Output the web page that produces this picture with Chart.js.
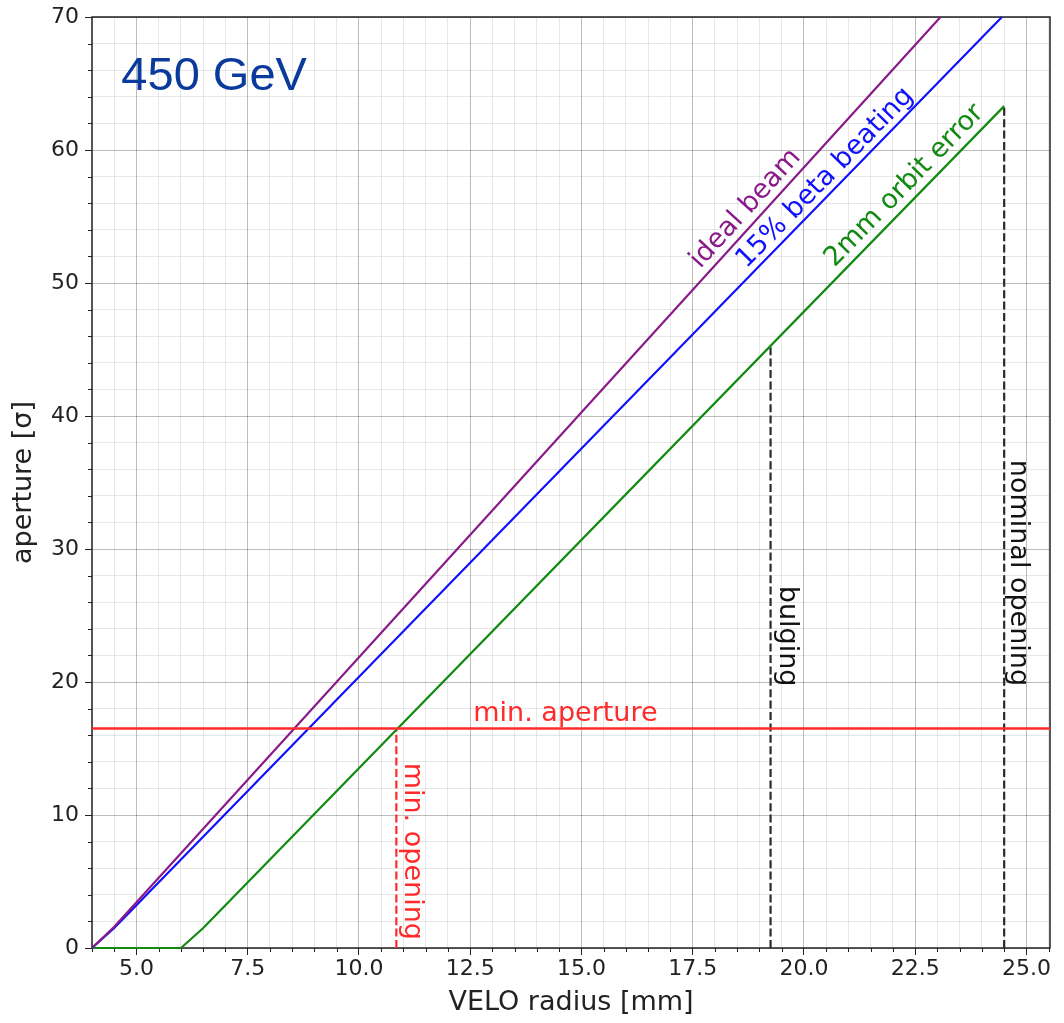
<!DOCTYPE html>
<html>
<head>
<meta charset="utf-8">
<title>VELO aperture at 450 GeV</title>
<script src="https://cdn.jsdelivr.net/npm/chart.js@4.4.1/dist/chart.umd.min.js"></script>
<style>
  html, body { margin: 0; padding: 0; background: #fff; }
  #wrap { width: 1064px; height: 1023px; }
</style>
</head>
<body>
<div id="wrap"><canvas id="chartAperture" width="1064" height="1023"></canvas></div>
<script>
// ── DATA ───────────────────────────────────────────────────────────────────
const xRange = [4.0, 25.53];
const yRange = [0, 70];
const xMajorTicks = [5.0, 7.5, 10.0, 12.5, 15.0, 17.5, 20.0, 22.5, 25.0];
const yMajorTicks = [0, 10, 20, 30, 40, 50, 60, 70];
const xMinorStep = 0.5;
const yMinorStep = 2;

// aperture [sigma] vs VELO radius [mm]
const idealX = [4.0, 4.5, 23.07];
const idealY = [0, 1.6, 70];
const betaX  = [4.0, 4.5, 24.45];
const betaY  = [0, 1.5, 70];
const orbitX = [4.0, 6.0, 6.5, 24.5];
const orbitY = [0, 0, 1.5, 63.3];

const minAperture = 16.5;
// vertical markers: min. opening, bulging, nominal opening
const markerX   = [10.84, 19.25, 24.5];
const markerTop = [16.5, 45.3, 63.3];

const COLORS = {
  ideal: '#8a1a8a',
  beta:  '#1010ff',
  orbit: '#118a11',
  red:   '#ff2a2a',
  dash:  '#2a2a2a',
  title: '#0a3a9c',
};

const FONT = "'DejaVu Sans', sans-serif";
Chart.defaults.font.family = FONT;
Chart.defaults.color = '#222';

const pts = (xs, ys) => xs.map((x, i) => ({ x: x, y: ys[i] }));
const isMajorX = v => xMajorTicks.some(t => Math.abs(t - v) < 1e-6);
const isMajorY = v => yMajorTicks.some(t => Math.abs(t - v) < 1e-6);

function lineSet(data, color, width, dash) {
  return { data: data, borderColor: color, backgroundColor: color, borderWidth: width,
    borderDash: dash || [], showLine: true, pointRadius: 0, pointHoverRadius: 0,
    tension: 0, clip: 4 };
}

const datasets = [
  lineSet(pts([xRange[0], xRange[1]], [minAperture, minAperture]), COLORS.red, 2.5),
  lineSet(pts(idealX, idealY), COLORS.ideal, 2.2),
  lineSet(pts(betaX, betaY), COLORS.beta, 2.2),
  lineSet(pts(orbitX, orbitY), COLORS.orbit, 2.2),
];
markerX.forEach((x, i) => {
  const c = i === 0 ? COLORS.red : COLORS.dash;
  datasets.push(lineSet(pts([x, x], [0, markerTop[i]]), c, 2.2, [8, 3.4]));
});

// ── TEXTS ──────────────────────────────────────────────────────────────────
// angle: 'v' = reads top to bottom, or a dataset to follow
const labels = [
  { text: '450 GeV', x: 4.66, y: 64.5, font: '47px "Liberation Sans", Arial, sans-serif',
    color: COLORS.title, align: 'left', baseline: 'alphabetic' },
  { text: 'min. aperture', x: 14.64, y: 17.07, color: COLORS.red, baseline: 'alphabetic' },
  { text: 'min. opening', x: 11.19, y: 7.27, color: COLORS.red, angle: 'v' },
  { text: 'bulging', x: 19.61, y: 23.45, color: '#111', angle: 'v' },
  { text: 'nominal opening', x: 24.81, y: 28.2, color: '#111', angle: 'v' },
  { text: 'ideal beam', x: 18.69, y: 55.58, color: COLORS.ideal, follow: [idealX, idealY] },
  { text: '15% beta beating', x: 20.48, y: 57.9, color: COLORS.beta, follow: [betaX, betaY] },
  { text: '2mm orbit error', x: 22.26, y: 57.3, color: COLORS.orbit, follow: [orbitX, orbitY] },
];

const decorations = {
  id: 'decorations',
  beforeDatasetsDraw(chart) {
    const { ctx, chartArea: a, scales } = chart;
    ctx.save();
    // minor tick marks
    ctx.strokeStyle = '#222';
    ctx.lineWidth = 1;
    ctx.beginPath();
    scales.x.ticks.forEach(t => {
      if (isMajorX(t.value)) return;
      const px = Math.round(scales.x.getPixelForValue(t.value)) + 0.5;
      ctx.moveTo(px, a.bottom); ctx.lineTo(px, a.bottom + 4);
    });
    scales.y.ticks.forEach(t => {
      if (isMajorY(t.value)) return;
      const py = Math.round(scales.y.getPixelForValue(t.value)) + 0.5;
      ctx.moveTo(a.left, py); ctx.lineTo(a.left - 4, py);
    });
    ctx.stroke();
    // frame
    ctx.lineWidth = 1.5;
    ctx.strokeStyle = '#222';
    ctx.strokeRect(a.left, a.top, a.right - a.left, a.bottom - a.top);
    ctx.restore();
  },
  afterDatasetsDraw(chart) {
    const { ctx, scales } = chart;
    labels.forEach(l => {
      const px = scales.x.getPixelForValue(l.x);
      const py = scales.y.getPixelForValue(l.y);
      let rot = 0;
      if (l.angle === 'v') rot = Math.PI / 2;
      if (l.follow) {
        const [xs, ys] = l.follow;
        const n = xs.length - 1;
        const dx = scales.x.getPixelForValue(xs[n]) - scales.x.getPixelForValue(xs[n - 1]);
        const dy = scales.y.getPixelForValue(ys[n]) - scales.y.getPixelForValue(ys[n - 1]);
        rot = Math.atan2(dy, dx);
      }
      ctx.save();
      ctx.translate(px, py);
      ctx.rotate(rot);
      ctx.font = l.font || '27px ' + FONT;
      ctx.fillStyle = l.color;
      ctx.textAlign = l.align || 'center';
      ctx.textBaseline = l.baseline || 'middle';
      ctx.fillText(l.text, 0, 0);
      ctx.restore();
    });
  }
};

// ── CHART ──────────────────────────────────────────────────────────────────
new Chart(document.getElementById('chartAperture'), {
  type: 'scatter',
  data: { datasets: datasets },
  plugins: [decorations],
  options: {
    responsive: false, animation: false,
    layout: { padding: { top: 16, right: 14, left: 0, bottom: 0 } },
    plugins: { legend: { display: false }, tooltip: { enabled: false } },
    scales: {
      x: {
        type: 'linear', min: xRange[0], max: xRange[1],
        afterBuildTicks: s => {
          const t = [];
          for (let v = xRange[0]; v <= xRange[1] + 1e-9; v += xMinorStep) t.push({ value: +v.toFixed(2) });
          s.ticks = t;
        },
        afterFit: s => { s.height = 75; },
        ticks: { autoSkip: false, maxRotation: 0, padding: 3, color: '#222',
          font: { size: 22, family: FONT, lineHeight: 1 },
          callback: v => isMajorX(v) ? v.toFixed(1) : '' },
        grid: {
          color: c => c.tick && isMajorX(c.tick.value) ? 'rgba(0,0,0,0.26)' : 'rgba(0,0,0,0.09)',
          tickColor: c => c.tick && isMajorX(c.tick.value) ? '#222' : 'rgba(0,0,0,0)',
          tickLength: 7, lineWidth: 1
        },
        border: { display: false },
        title: { display: true, text: 'VELO radius [mm]', color: '#222',
          font: { size: 27, family: FONT }, padding: { top: 0, bottom: 4 } }
      },
      y: {
        type: 'linear', min: yRange[0], max: yRange[1],
        afterBuildTicks: s => {
          const t = [];
          for (let v = yRange[0]; v <= yRange[1] + 1e-9; v += yMinorStep) t.push({ value: v });
          s.ticks = t;
        },
        afterFit: s => { s.width = 92; },
        ticks: { autoSkip: false, padding: 6, color: '#222',
          font: { size: 22, family: FONT, lineHeight: 1 },
          callback: v => isMajorY(v) ? String(v) : '' },
        grid: {
          color: c => c.tick && isMajorY(c.tick.value) ? 'rgba(0,0,0,0.26)' : 'rgba(0,0,0,0.09)',
          tickColor: c => c.tick && isMajorY(c.tick.value) ? '#222' : 'rgba(0,0,0,0)',
          tickLength: 7, lineWidth: 1
        },
        border: { display: false },
        title: { display: true, text: 'aperture [σ]', color: '#222',
          font: { size: 27, family: FONT }, padding: { top: 8, bottom: 0 } }
      }
    }
  }
});
</script>
</body>
</html>
